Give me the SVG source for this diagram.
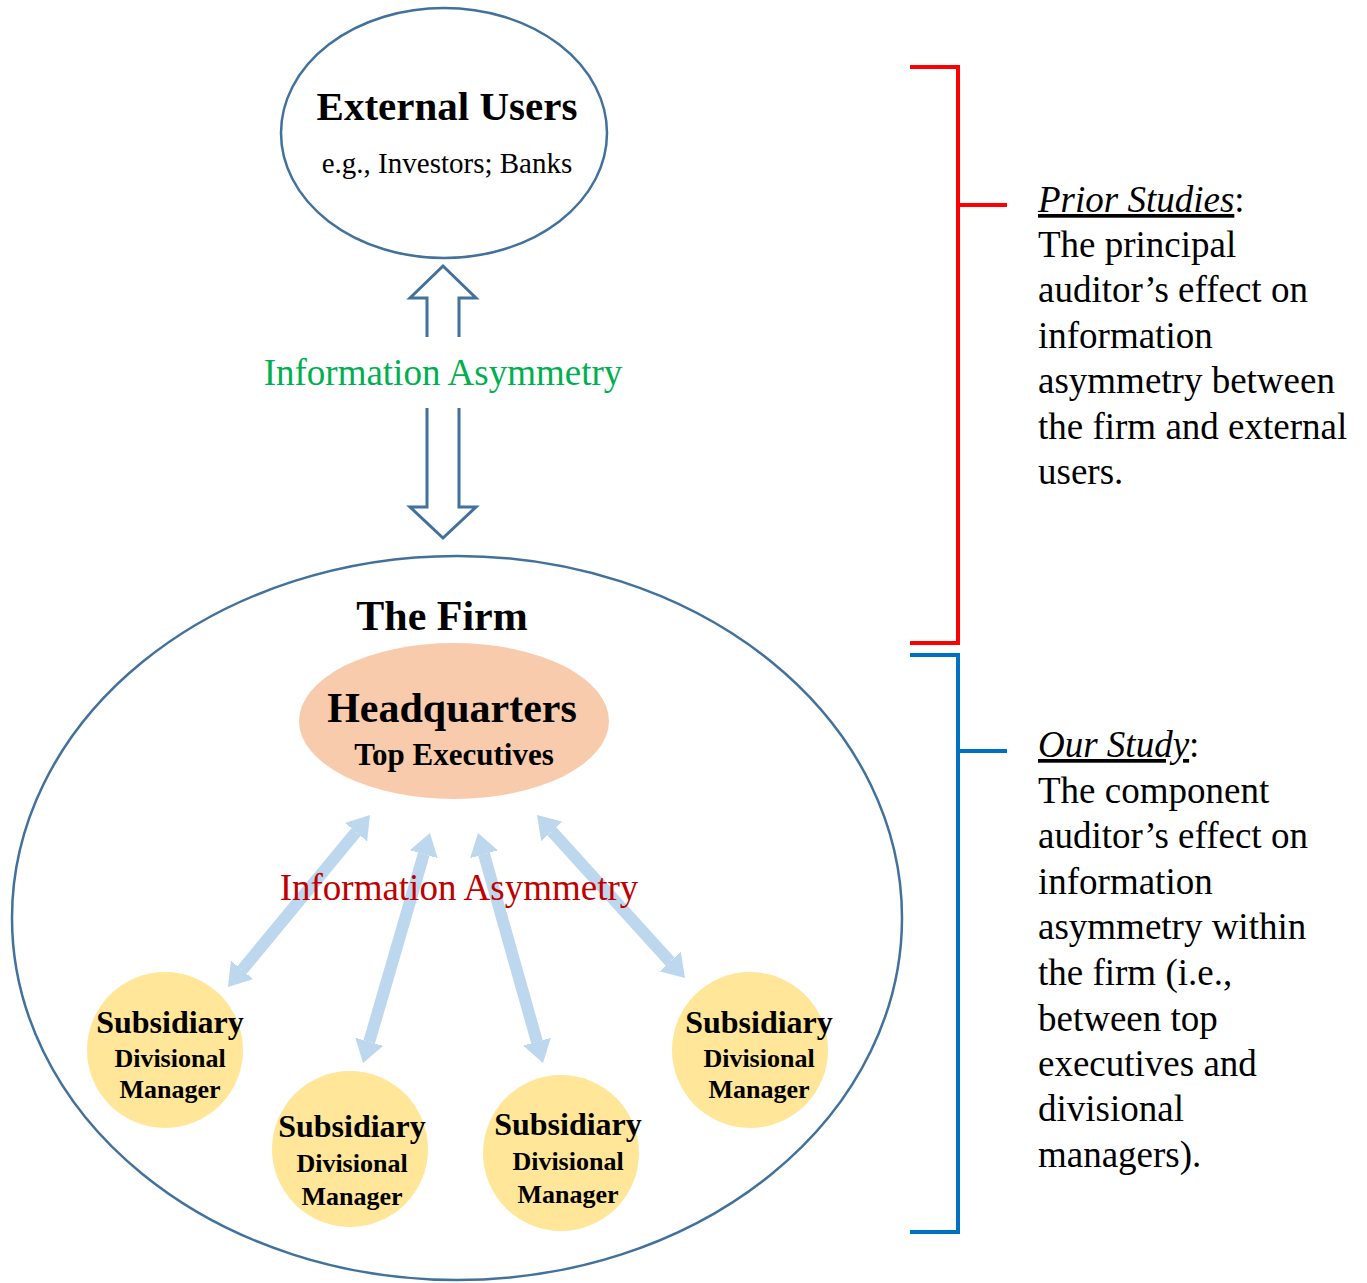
<svg xmlns="http://www.w3.org/2000/svg" width="1367" height="1283" viewBox="0 0 1367 1283">
<style>
.serif{font-family:"Liberation Serif","Times New Roman",serif}
.b{font-weight:bold;fill:#000}
.outline{fill:none;stroke:#41719C;stroke-width:2.5}
.block{fill:none;stroke:#41719C;stroke-width:3;stroke-linejoin:miter}
.sub{fill:#FFE699}
.la{stroke:#BDD7EE;stroke-width:12;fill:none;marker-start:url(#lh);marker-end:url(#lh)}
.note{font-size:37px;fill:#000}
</style>
<defs>
<marker id="lh" viewBox="0 -15 22 30" refX="0" refY="0" markerWidth="22" markerHeight="30" markerUnits="userSpaceOnUse" orient="auto-start-reverse">
<path d="M-1,-15 L22,0 L-1,15 z" fill="#BDD7EE"/>
</marker>
</defs>
<rect width="1367" height="1283" fill="#fff"/>

<g id="external-users">
<ellipse class="outline" cx="444" cy="133" rx="163" ry="125" fill="#fff"/>
<text class="serif b" x="447" y="120" font-size="41" text-anchor="middle">External Users</text>
<text class="serif" x="447" y="173" font-size="29" text-anchor="middle" fill="#000">e.g., Investors; Banks</text>
</g>

<g id="the-firm">
<ellipse class="outline" cx="457" cy="918" rx="445" ry="362" fill="#fff"/>
<text class="serif b" x="442" y="630" font-size="42" text-anchor="middle">The Firm</text>
</g>

<g id="headquarters">
<ellipse cx="454" cy="721" rx="155" ry="78" fill="#F8CBAD"/>
<text class="serif b" x="452" y="722" font-size="42" text-anchor="middle">Headquarters</text>
<text class="serif b" x="454" y="765" font-size="31" text-anchor="middle">Top Executives</text>
</g>

<g id="subsidiary-1">
<circle class="sub" cx="165" cy="1050" r="78"/>
<text class="serif b" x="170" y="1033" font-size="32" text-anchor="middle">Subsidiary</text>
<text class="serif b" x="170" y="1067" font-size="26" text-anchor="middle">Divisional</text>
<text class="serif b" x="170" y="1098" font-size="26" text-anchor="middle">Manager</text>
</g>
<g id="subsidiary-2">
<circle class="sub" cx="350" cy="1149" r="78"/>
<text class="serif b" x="352" y="1137" font-size="32" text-anchor="middle">Subsidiary</text>
<text class="serif b" x="352" y="1172" font-size="26" text-anchor="middle">Divisional</text>
<text class="serif b" x="352" y="1205" font-size="26" text-anchor="middle">Manager</text>
</g>
<g id="subsidiary-3">
<circle class="sub" cx="561" cy="1153" r="78"/>
<text class="serif b" x="568" y="1135" font-size="32" text-anchor="middle">Subsidiary</text>
<text class="serif b" x="568" y="1170" font-size="26" text-anchor="middle">Divisional</text>
<text class="serif b" x="568" y="1203" font-size="26" text-anchor="middle">Manager</text>
</g>
<g id="subsidiary-4">
<circle class="sub" cx="750" cy="1050" r="78"/>
<text class="serif b" x="759" y="1033" font-size="32" text-anchor="middle">Subsidiary</text>
<text class="serif b" x="759" y="1067" font-size="26" text-anchor="middle">Divisional</text>
<text class="serif b" x="759" y="1098" font-size="26" text-anchor="middle">Manager</text>
</g>

<g id="connectors">
<polyline class="block" points="427,337 427,298 410,298 443,266 476,298 459,298 459,337"/>
<polyline class="block" points="427,408 427,507 410,507 443,538 476,507 459,507 459,408"/>
<line class="la" x1="356" y1="832" x2="242" y2="970"/>
<line class="la" x1="423.8" y1="854.1" x2="369.2" y2="1041.9"/>
<line class="la" x1="484" y1="854.2" x2="537" y2="1041.8"/>
<line class="la" x1="551.8" y1="831.3" x2="670.2" y2="961.7"/>
</g>

<g id="labels">
<text class="serif" x="443" y="385" font-size="37" text-anchor="middle" fill="#00B050">Information Asymmetry</text>
<text class="serif" x="459" y="900" font-size="37" text-anchor="middle" fill="#C00000">Information Asymmetry</text>
</g>

<g id="prior-studies">
<polyline points="910,67 958,67 958,643 910,643" fill="none" stroke="#FF0000" stroke-width="4"/>
<line x1="958" y1="205" x2="1007" y2="205" stroke="#FF0000" stroke-width="4"/>
<text class="serif note" x="1038" y="212"><tspan font-style="italic" text-decoration="underline">Prior Studies</tspan>:</text>
<text class="serif note" x="1038" y="257">The principal</text>
<text class="serif note" x="1038" y="302">auditor’s effect on</text>
<text class="serif note" x="1038" y="348">information</text>
<text class="serif note" x="1038" y="393">asymmetry between</text>
<text class="serif note" x="1038" y="439">the firm and external</text>
<text class="serif note" x="1038" y="484">users.</text>
</g>

<g id="our-study">
<polyline points="910,655 958,655 958,1232 910,1232" fill="none" stroke="#0070C0" stroke-width="4"/>
<line x1="958" y1="751" x2="1007" y2="751" stroke="#0070C0" stroke-width="4"/>
<text class="serif note" x="1038" y="757"><tspan font-style="italic" text-decoration="underline">Our Study</tspan>:</text>
<text class="serif note" x="1038" y="803">The component</text>
<text class="serif note" x="1038" y="848">auditor’s effect on</text>
<text class="serif note" x="1038" y="894">information</text>
<text class="serif note" x="1038" y="939">asymmetry within</text>
<text class="serif note" x="1038" y="985">the firm (i.e.,</text>
<text class="serif note" x="1038" y="1031">between top</text>
<text class="serif note" x="1038" y="1076">executives and</text>
<text class="serif note" x="1038" y="1121">divisional</text>
<text class="serif note" x="1038" y="1167">managers).</text>
</g>
</svg>
